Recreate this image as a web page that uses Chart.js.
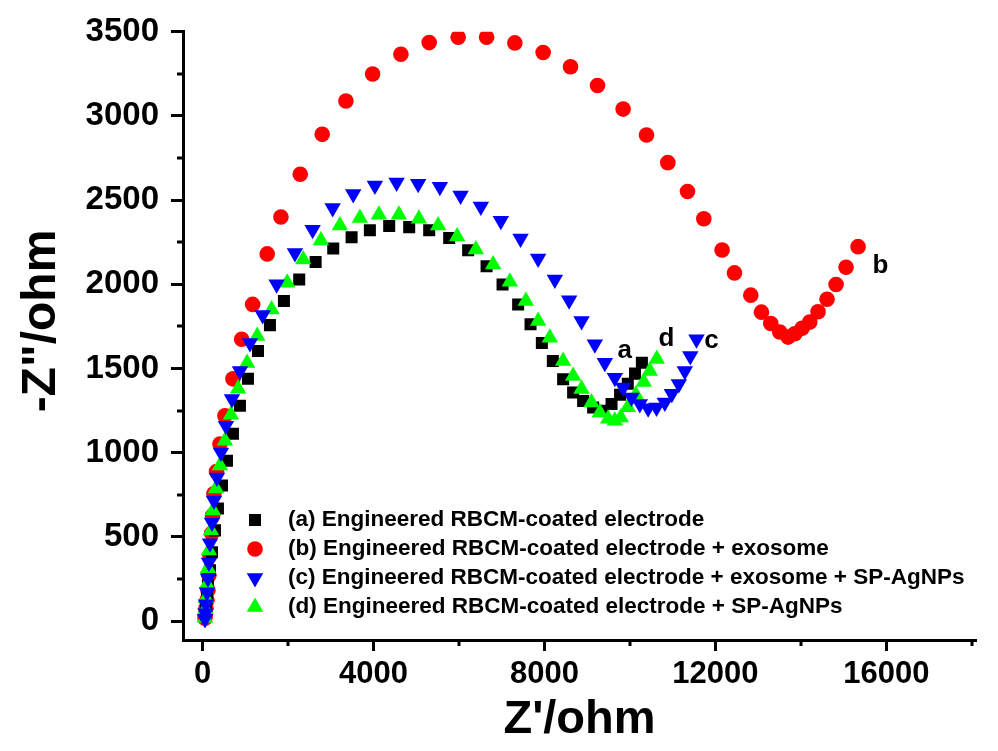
<!DOCTYPE html>
<html>
<head>
<meta charset="utf-8">
<script src="https://cdn.jsdelivr.net/npm/chart.js@4.4.1/dist/chart.umd.min.js"></script>
<style>
  html, body { margin: 0; padding: 0; background: #fff; }
  #wrap { width: 998px; height: 751px; }
</style>
</head>
<body>
<div id="wrap"><canvas id="eis" width="998" height="751"></canvas></div>
<script>
// tick labels
const xTickVals = [0, 4000, 8000, 12000, 16000];
const xMinorVals = [2000, 6000, 10000, 14000, 18000];
const yTickVals = [0, 500, 1000, 1500, 2000, 2500, 3000, 3500];
const yMinorVals = [250, 750, 1250, 1750, 2250, 2750, 3250];

// (a) Engineered RBCM-coated electrode
const aZre = [54, 77, 101, 124, 171, 218, 288, 358, 452, 569, 709, 873, 1060, 1295, 1575, 1902, 2260, 2644, 3056, 3486, 3914, 4366, 4834, 5302, 5770, 6214, 6645, 7019, 7384, 7674, 7939, 8196, 8437, 8671, 8905, 9139, 9366, 9570, 9770, 9950, 10120, 10280];
const aZim = [30, 77, 136, 213, 302, 409, 539, 669, 805, 953, 1113, 1279, 1439, 1604, 1758, 1901, 2029, 2133, 2213, 2280, 2321, 2346, 2340, 2321, 2275, 2202, 2108, 1999, 1881, 1763, 1652, 1545, 1437, 1358, 1308, 1269, 1249, 1290, 1345, 1410, 1470, 1535];

// (b) + exosome
const bZre = [54, 66, 77, 101, 124, 147, 171, 211, 234, 264, 325, 405, 522, 709, 913, 1170, 1511, 1832, 2284, 2798, 3353, 3978, 4640, 5302, 5980, 6645, 7307, 7969, 8610, 9242, 9841, 10388, 10887, 11348, 11729, 12157, 12447, 12829, 13079, 13297, 13507, 13701, 13858, 14029, 14209, 14403, 14614, 14825, 15059, 15340];
const bZim = [18, 41, 77, 124, 184, 272, 391, 521, 628, 757, 888, 1052, 1220, 1439, 1674, 1881, 2181, 2400, 2654, 2891, 3089, 3249, 3367, 3436, 3468, 3468, 3434, 3377, 3292, 3181, 3041, 2887, 2723, 2552, 2390, 2204, 2068, 1936, 1835, 1768, 1717, 1687, 1707, 1739, 1776, 1837, 1912, 1999, 2102, 2224];

// (c) + exosome + SP-AgNPs
const cZre = [54, 66, 77, 101, 124, 147, 171, 218, 264, 335, 428, 545, 686, 873, 1107, 1404, 1731, 2160, 2574, 3042, 3524, 4031, 4539, 5044, 5552, 6037, 6511, 6979, 7440, 7852, 8243, 8578, 8868, 9179, 9413, 9647, 9841, 10037, 10232, 10426, 10623, 10817, 10981, 11145, 11285, 11413, 11558];
const cZim = [12, 47, 101, 172, 255, 349, 462, 586, 716, 853, 1001, 1160, 1320, 1486, 1652, 1818, 2000, 2187, 2325, 2453, 2536, 2587, 2605, 2597, 2580, 2528, 2463, 2378, 2272, 2153, 2029, 1905, 1782, 1644, 1535, 1446, 1387, 1328, 1289, 1265, 1269, 1298, 1350, 1409, 1486, 1575, 1674];

// (d) + SP-AgNPs
const dZre = [54, 66, 77, 101, 124, 147, 194, 241, 311, 405, 522, 662, 830, 1040, 1277, 1614, 1979, 2354, 2768, 3212, 3680, 4125, 4593, 5061, 5512, 5957, 6394, 6799, 7190, 7564, 7852, 8126, 8437, 8671, 8868, 9102, 9296, 9490, 9647, 9787, 9951, 10138, 10325, 10466, 10629];
const dZim = [18, 71, 136, 219, 314, 420, 539, 657, 787, 924, 1072, 1226, 1380, 1533, 1693, 1851, 2009, 2147, 2260, 2350, 2394, 2414, 2414, 2390, 2350, 2285, 2207, 2118, 2015, 1901, 1782, 1683, 1545, 1456, 1378, 1298, 1239, 1202, 1190, 1210, 1270, 1345, 1420, 1486, 1557];

const seriesLabels = [
  '(a) Engineered RBCM-coated electrode',
  '(b) Engineered RBCM-coated electrode + exosome',
  '(c) Engineered RBCM-coated electrode + exosome + SP-AgNPs',
  '(d) Engineered RBCM-coated electrode + SP-AgNPs'
];
const curveTags = ['a', 'b', 'c', 'd'];
const tagX = [9881, 15863, 11909, 10856];
const tagY = [1604, 2108, 1664, 1674];

const toPts = (xs, ys) => xs.map((x, i) => ({ x: x, y: ys[i] }));

Chart.defaults.font.family = "'Liberation Sans', Arial, sans-serif";
Chart.defaults.font.weight = 'bold';
Chart.defaults.color = '#000';

function marker(ctx, style, x, y, r, rot) {
  ctx.beginPath();
  if (style === 'circle') {
    ctx.arc(x, y, r, 0, Math.PI * 2);
  } else if (style === 'rect') {
    const s = r * Math.SQRT1_2;
    ctx.rect(x - s, y - s, 2 * s, 2 * s);
  } else {
    let a = (rot || 0) * Math.PI / 180;
    ctx.moveTo(x + Math.sin(a) * r, y - Math.cos(a) * r);
    a += 2 * Math.PI / 3;
    ctx.lineTo(x + Math.sin(a) * r, y - Math.cos(a) * r);
    a += 2 * Math.PI / 3;
    ctx.lineTo(x + Math.sin(a) * r, y - Math.cos(a) * r);
    ctx.closePath();
  }
  ctx.fill();
}

// minor ticks, y title, curve tags and the legend inside the plot
const extras = {
  id: 'extras',
  afterDraw(chart) {
    const ctx = chart.ctx;
    const xs = chart.scales.x, ys = chart.scales.y;
    const area = chart.chartArea;
    ctx.save();
    ctx.strokeStyle = '#000';
    ctx.lineWidth = 3;
    xMinorVals.forEach(v => {
      const px = Math.round(xs.getPixelForValue(v));
      ctx.beginPath();
      ctx.moveTo(px, area.bottom);
      ctx.lineTo(px, area.bottom + 6);
      ctx.stroke();
    });
    yMinorVals.forEach(v => {
      const py = Math.round(ys.getPixelForValue(v));
      ctx.beginPath();
      ctx.moveTo(area.left, py);
      ctx.lineTo(area.left - 6, py);
      ctx.stroke();
    });

    ctx.fillStyle = '#000';
    ctx.textAlign = 'center';
    ctx.textBaseline = 'middle';

    // y title sits a little above the middle of the axis
    ctx.save();
    ctx.translate(42, 321);
    ctx.rotate(-Math.PI / 2);
    ctx.font = "bold 48px 'Liberation Sans', Arial, sans-serif";
    ctx.fillText('-Z"/ohm', 0, 0);
    ctx.restore();

    ctx.font = "bold 26px 'Liberation Sans', Arial, sans-serif";
    curveTags.forEach((t, i) => {
      ctx.fillText(t, xs.getPixelForValue(tagX[i]), ys.getPixelForValue(tagY[i]));
    });

    ctx.font = "bold 22.5px 'Liberation Sans', Arial, sans-serif";
    ctx.textAlign = 'left';
    chart.data.datasets.forEach((ds, i) => {
      const y = 520 + i * 29;
      ctx.fillStyle = ds.backgroundColor;
      marker(ctx, ds.pointStyle, 255, y, ds.pointRadius, ds.pointRotation);
      ctx.fillStyle = '#000';
      ctx.fillText(ds.label, 288, y);
    });
    ctx.restore();
  }
};

const colors = ['#000000', '#ff0000', '#0000ff', '#00ff00'];

new Chart(document.getElementById('eis'), {
  type: 'scatter',
  data: {
    datasets: [
      { label: seriesLabels[0], data: toPts(aZre, aZim), pointStyle: 'rect', pointRadius: 8.5, pointRotation: 0,
        backgroundColor: colors[0], borderColor: colors[0], borderWidth: 0, order: 3 },
      { label: seriesLabels[1], data: toPts(bZre, bZim), pointStyle: 'circle', pointRadius: 7.8, pointRotation: 0,
        backgroundColor: colors[1], borderColor: colors[1], borderWidth: 0, order: 4 },
      { label: seriesLabels[2], data: toPts(cZre, cZim), pointStyle: 'triangle', pointRadius: 9.5, pointRotation: 180,
        backgroundColor: colors[2], borderColor: colors[2], borderWidth: 0, order: 1 },
      { label: seriesLabels[3], data: toPts(dZre, dZim), pointStyle: 'triangle', pointRadius: 9.5, pointRotation: 0,
        backgroundColor: colors[3], borderColor: colors[3], borderWidth: 0, order: 2 }
    ]
  },
  options: {
    responsive: false,
    animation: false,
    layout: { padding: { left: 0, top: 29, right: 22, bottom: 0 } },
    plugins: { legend: { display: false }, tooltip: { enabled: false } },
    scales: {
      x: {
        type: 'linear', min: -460, max: 18100,
        afterBuildTicks: s => { s.ticks = xTickVals.map(v => ({ value: v })); },
        afterFit: s => { s.height = 111; },
        border: { display: true, color: '#000', width: 3 },
        grid: { drawOnChartArea: false, drawTicks: true, tickLength: 11, tickWidth: 3, tickColor: '#000' },
        ticks: { color: '#000', font: { size: 31, weight: 'bold' }, padding: 5, maxRotation: 0, autoSkip: false,
          callback: v => String(v) },
        title: { display: true, text: "Z'/ohm", color: '#000', font: { size: 47, weight: 'bold' },
          padding: { top: 0, bottom: 3 } }
      },
      y: {
        type: 'linear', min: -112, max: 3500,
        afterBuildTicks: s => { s.ticks = yTickVals.map(v => ({ value: v })); },
        afterFit: s => { s.width = 183; },
        border: { display: true, color: '#000', width: 3 },
        grid: { drawOnChartArea: false, drawTicks: true, tickLength: 12, tickWidth: 3, tickColor: '#000' },
        ticks: { color: '#000', font: { size: 33, weight: 'bold' }, padding: 12, autoSkip: false,
          callback: v => String(v) },
        title: { display: false }
      }
    }
  },
  plugins: [extras]
});
</script>
</body>
</html>
